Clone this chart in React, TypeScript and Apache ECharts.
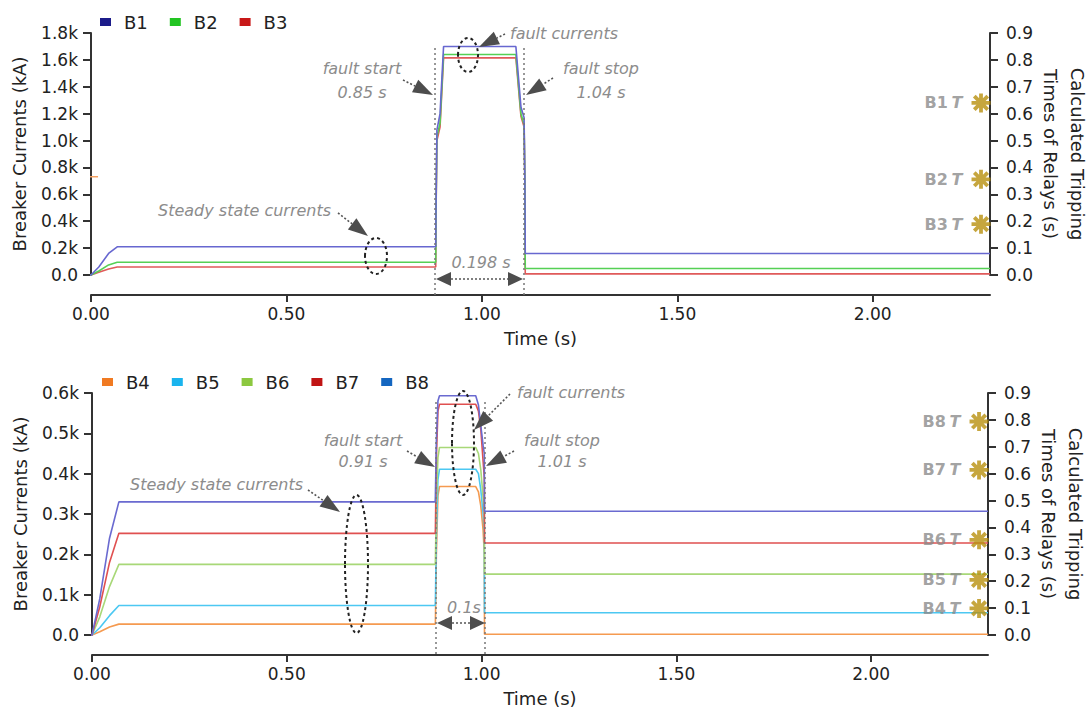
import React, { useEffect, useRef } from 'react';
import * as echarts from 'echarts';

// ---------- data ----------
const TOP_T = [-0.02, 0, 0.02, 0.045, 0.067, 0.882, 0.8825, 0.885, 0.893, 0.902, 1.087, 1.1, 1.108, 1.11, 1.111, 2.3];
const B1 = [0, 0, 60, 160, 210, 210, 450, 1080, 1200, 1700, 1700, 1250, 1170, 720, 160, 160];
const B2 = [0, 0, 30, 75, 95, 95, 420, 1030, 1130, 1640, 1640, 1200, 1120, 700, 48, 48];
const B3 = [0, 0, 20, 45, 60, 60, 400, 1000, 1100, 1615, 1615, 1180, 1100, 690, 8, 8];

const BOT_T = [-0.02, 0, 0.02, 0.045, 0.069, 0.881, 0.8815, 0.884, 0.888, 0.892, 0.985, 0.992, 0.998, 1.004, 1.007, 1.0075, 2.3];
const B4 = [0, 0, 8, 20, 27, 27, 32, 200, 345, 368, 368, 355, 320, 260, 200, 2, 2];
const B5 = [0, 0, 18, 48, 73, 73, 80, 250, 385, 411, 411, 400, 360, 300, 250, 55, 55];
const B6 = [0, 0, 45, 120, 175, 175, 185, 330, 440, 465, 465, 450, 410, 340, 300, 151, 151];
const B7 = [0, 0, 70, 180, 252, 252, 262, 440, 555, 572, 572, 555, 510, 430, 390, 228, 228];
const B8 = [0, 0, 90, 240, 330, 330, 345, 480, 580, 593, 593, 570, 520, 470, 450, 307, 307];

const STRAY_T = [-0.015, 0.018];
const STRAY_V = [731, 731];

const TOP_RELAYS = ['B1', 'B2', 'B3'];
const TOP_TRIP = [0.64, 0.356, 0.189];
const BOT_RELAYS = ['B8', 'B7', 'B6', 'B5', 'B4'];
const BOT_TRIP = [0.794, 0.614, 0.354, 0.205, 0.099];
const STAR_X = 2.277;

const X_TICKS = [0, 0.5, 1, 1.5, 2];

const FONT = 'DejaVu Sans';
const INK = '#222';
const NOTE = '#8c8c8c';

const ICON_COL: Record<string, string> = {
  B1: '#1c1c8a', B2: '#22c422', B3: '#c81818',
  B4: '#f07a22', B5: '#1ab4ee', B6: '#8cc840', B7: '#c01414', B8: '#1466c0',
};
const LINE_COL: Record<string, string> = {
  B1: '#6767d0', B2: '#55d055', B3: '#e05a5a',
  B4: '#f59a50', B5: '#4cc8f2', B6: '#a8d878', B7: '#e05050', B8: '#6a6ad0',
};

const STAR_PATH = 'path://M-10,-2L10,-2L10,2L-10,2Z M-2,-10L2,-10L2,10L-2,10Z M-5.657,-8.485L8.485,5.657L5.657,8.485L-8.485,-5.657Z M5.657,-8.485L8.485,-5.657L-5.657,8.485L-8.485,5.657Z';

const zip = (t: number[], v: number[]) => t.map((x, i) => [x, v[i]]);

function arrow(x1: number, y1: number, x2: number, y2: number, L = 20, W = 7): any[] {
  const dx = x2 - x1, dy = y2 - y1;
  const len = Math.hypot(dx, dy);
  const ux = dx / len, uy = dy / len;
  const bx = x2 - ux * L, by = y2 - uy * L;
  const nx = -uy, ny = ux;
  return [
    { type: 'line', z: 100, shape: { x1, y1, x2: bx, y2: by }, style: { stroke: '#555', lineWidth: 1.6, lineDash: [2, 2] } },
    { type: 'polygon', z: 100, shape: { points: [[x2, y2], [bx + nx * W, by + ny * W], [bx - nx * W, by - ny * W]] }, style: { fill: '#4d4d4d' } },
  ];
}

function doubleArrow(xa: number, xb: number, y: number, L = 15, W = 7): any[] {
  return [
    { type: 'line', z: 100, shape: { x1: xa + L, y1: y, x2: xb - L, y2: y }, style: { stroke: '#555', lineWidth: 1.6, lineDash: [2, 2] } },
    { type: 'polygon', z: 100, shape: { points: [[xa, y], [xa + L, y - W], [xa + L, y + W]] }, style: { fill: '#4d4d4d' } },
    { type: 'polygon', z: 100, shape: { points: [[xb, y], [xb - L, y - W], [xb - L, y + W]] }, style: { fill: '#4d4d4d' } },
  ];
}

function note(text: string, x: number, y: number, align: string = 'center'): any {
  return {
    type: 'text', z: 100, x, y,
    style: { text, fontSize: 16, fontStyle: 'italic', fontFamily: FONT, fill: NOTE, align, verticalAlign: 'middle' },
  };
}

function ellipse(cx: number, cy: number, rx: number, ry: number): any {
  return { type: 'ellipse', z: 100, shape: { cx, cy, rx, ry }, style: { fill: 'none', stroke: '#222', lineWidth: 2, lineDash: [3, 3] } };
}

function vline(x: number, y1: number, y2: number): any {
  return { type: 'line', z: 100, shape: { x1: x, y1, x2: x, y2 }, style: { stroke: '#777', lineWidth: 1.5, lineDash: [2, 3] } };
}

const kFmt = (v: number) => (v === 0 ? '0.0' : (v / 1000).toFixed(1) + 'k');

function leftY(gridIndex: number, max: number, interval: number): any {
  return {
    type: 'value', gridIndex, min: 0, max, interval, position: 'left',
    name: 'Breaker Currents (kA)', nameLocation: 'middle', nameGap: 63, nameMoveOverlap: false,
    nameTextStyle: { fontSize: 18, color: INK, fontFamily: FONT },
    axisLine: { show: true, onZero: false, lineStyle: { color: '#333', width: 2 } },
    axisTick: { show: true, length: 8, lineStyle: { color: '#333', width: 2 } },
    axisLabel: { formatter: kFmt, fontSize: 17, color: INK, fontFamily: FONT, margin: 13 },
    splitLine: { show: false },
  };
}

function rightY(gridIndex: number): any {
  return {
    type: 'value', gridIndex, min: 0, max: 0.9, interval: 0.1, position: 'right',
    name: 'Calculated Tripping\nTimes of Relays (s)', nameLocation: 'middle', nameGap: 47, nameRotate: -90,
    nameMoveOverlap: false,
    nameTextStyle: { fontSize: 18, color: INK, fontFamily: FONT, lineHeight: 27 },
    axisLine: { show: true, onZero: false, lineStyle: { color: '#333', width: 2 } },
    axisTick: { show: true, length: 8, lineStyle: { color: '#333', width: 2 } },
    axisLabel: { formatter: (v: number) => v.toFixed(1), fontSize: 17, color: INK, fontFamily: FONT, margin: 16 },
    splitLine: { show: false },
  };
}

function xAx(gridIndex: number): any {
  return {
    type: 'value', gridIndex, min: 0, max: 2.3, interval: 0.5, offset: 20,
    name: 'Time (s)', nameLocation: 'middle', nameGap: 34, nameMoveOverlap: false,
    nameTextStyle: { fontSize: 18, color: INK, fontFamily: FONT },
    axisLine: { show: true, onZero: false, lineStyle: { color: '#333', width: 2 } },
    axisTick: { show: true, length: 7, customValues: X_TICKS, lineStyle: { color: '#333', width: 2 } },
    axisLabel: { customValues: X_TICKS, formatter: (v: number) => v.toFixed(2), fontSize: 17, color: INK, fontFamily: FONT, margin: 10 },
    splitLine: { show: false },
  };
}

function lineSeries(name: string, t: number[], v: number[], xi: number, yi: number): any {
  return {
    type: 'line', name, xAxisIndex: xi, yAxisIndex: yi, data: zip(t, v),
    showSymbol: false, symbol: 'none', clip: false,
    itemStyle: { color: ICON_COL[name] },
    lineStyle: { color: LINE_COL[name], width: 1.6 },
    z: 3,
  };
}

function starSeries(names: string[], vals: number[], xi: number, yi: number): any {
  return {
    type: 'scatter', xAxisIndex: xi, yAxisIndex: yi,
    symbol: STAR_PATH, symbolSize: 19,
    itemStyle: { color: '#b8900e' },
    data: names.map((n, i) => ({ name: n, value: [STAR_X, vals[i]] })),
    label: {
      show: true, position: 'left', distance: 9,
      formatter: (p: any) => `{b|${p.name}} {i|T}`,
      rich: {
        b: { fontSize: 16, fontWeight: 'bold', color: '#8a8a8a', fontFamily: FONT },
        i: { fontSize: 16, fontWeight: 'bold', fontStyle: 'italic', color: '#8a8a8a', fontFamily: FONT },
      },
    },
    z: 5,
  };
}

function legend(names: string[], left: number, top: number): any {
  return {
    data: names.map((n) => ({ name: n, icon: 'rect', itemStyle: { color: ICON_COL[n] } })),
    left, top, itemWidth: 11, itemHeight: 8, itemGap: 22, orient: 'horizontal',
    textStyle: { fontSize: 18, color: INK, fontFamily: FONT, padding: [0, 0, 0, 8] },
    selectedMode: false,
  };
}

const graphics: any[] = [
  // top panel
  vline(435, 48, 295), vline(524, 48, 295),
  note('fault start', 362, 68), note('0.85 s', 362, 92),
  ...arrow(403, 80, 433, 95),
  note('fault stop', 601, 68), note('1.04 s', 601, 92),
  ...arrow(553, 78, 526, 95),
  note('fault currents', 510, 33, 'left'),
  ...arrow(505, 34, 479, 47),
  ellipse(468, 55, 10, 17),
  note('Steady state currents', 158, 210, 'left'),
  ...arrow(338, 213, 368, 236),
  ellipse(376, 256, 11, 18),
  note('0.198 s', 481, 262),
  ...doubleArrow(436, 523, 279),
  // bottom panel
  vline(436, 402, 654), vline(485, 402, 654),
  note('fault start', 363, 440), note('0.91 s', 363, 461),
  ...arrow(407, 451, 435, 467),
  note('fault stop', 562, 440), note('1.01 s', 562, 461),
  ...arrow(514, 451, 486, 466),
  note('fault currents', 517, 392, 'left'),
  ...arrow(510, 394, 474, 430),
  ellipse(463, 443, 11, 52),
  note('Steady state currents', 130, 484, 'left'),
  ...arrow(308, 490, 340, 512),
  ellipse(356.5, 564, 11.5, 69),
  note('0.1s', 464, 607),
  ...doubleArrow(437, 485, 623),
];

export default function App() {
  const ref = useRef<HTMLDivElement>(null);
  useEffect(() => {
    if (!ref.current) return;
    const chart = echarts.init(ref.current, null, { renderer: 'svg' });
    chart.setOption({
      animation: false,
      backgroundColor: '#ffffff',
      textStyle: { fontFamily: FONT },
      grid: [
        { left: 91, right: 99, top: 33, height: 242, outerBoundsMode: 'none', containLabel: false },
        { left: 92, right: 101, top: 393, height: 242, outerBoundsMode: 'none', containLabel: false },
      ],
      xAxis: [xAx(0), xAx(1)],
      yAxis: [leftY(0, 1800, 200), rightY(0), leftY(1, 600, 100), rightY(1)],
      legend: [
        legend(['B1', 'B2', 'B3'], 95, 8),
        legend(['B4', 'B5', 'B6', 'B7', 'B8'], 97, 368),
      ],
      series: [
        {
          type: 'line', name: 'stray', xAxisIndex: 0, yAxisIndex: 0, data: zip(STRAY_T, STRAY_V),
          showSymbol: false, symbol: 'none', clip: false, silent: true,
          lineStyle: { color: '#f5a060', width: 1.5 },
        },
        lineSeries('B3', TOP_T, B3, 0, 0),
        lineSeries('B2', TOP_T, B2, 0, 0),
        lineSeries('B1', TOP_T, B1, 0, 0),
        starSeries(TOP_RELAYS, TOP_TRIP, 0, 1),
        lineSeries('B4', BOT_T, B4, 1, 2),
        lineSeries('B5', BOT_T, B5, 1, 2),
        lineSeries('B6', BOT_T, B6, 1, 2),
        lineSeries('B7', BOT_T, B7, 1, 2),
        lineSeries('B8', BOT_T, B8, 1, 2),
        starSeries(BOT_RELAYS, BOT_TRIP, 1, 3),
      ],
      graphic: graphics,
    });
    return () => chart.dispose();
  }, []);
  return <div ref={ref} style={{ position: 'absolute', left: 0, top: 0, width: 1089, height: 711 }} />;
}
